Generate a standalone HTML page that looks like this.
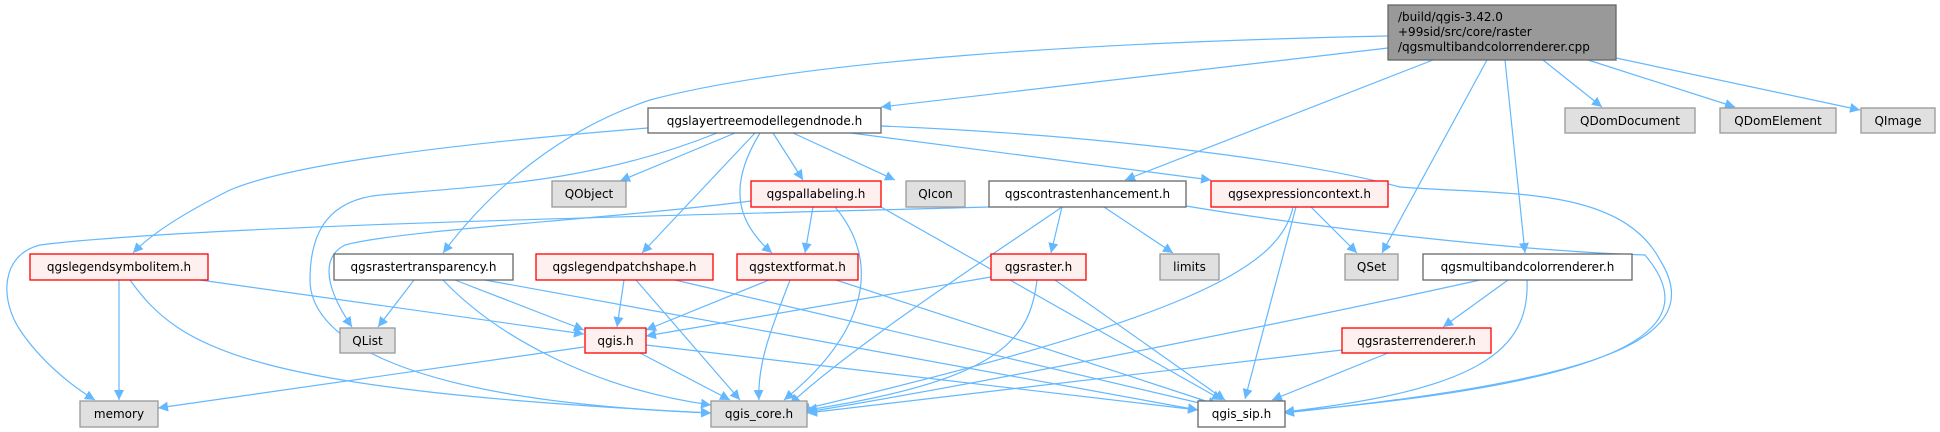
<!DOCTYPE html>
<html><head><meta charset="utf-8"><style>
html,body{margin:0;padding:0;background:#fff;}
svg{display:block;}
text{font-family:"DejaVu Sans","Liberation Sans",sans-serif;font-size:12px;fill:#000;}
</style></head><body>
<svg width="1940" height="432" viewBox="0 0 1940 432" xmlns="http://www.w3.org/2000/svg">
<defs>
<marker id="a" viewBox="0 0 10 10" refX="10" refY="5" markerWidth="10" markerHeight="10" markerUnits="userSpaceOnUse" orient="auto">
<path d="M0,0 L10,5 L0,10 z" fill="#63b8ff"/>
</marker>
</defs>
<g fill="none" stroke="#63b8ff" stroke-width="1.2" marker-end="url(#a)">
<!-- root edges -->
<path d="M1388,48 L881,107"/>
<path d="M1388,36 C1100,42 800,60 650,100 C560,130 490,190 443,253"/>
<path d="M1433,60 L1125,180"/>
<path d="M1487,60 L1382,253"/>
<path d="M1505,60 L1525,253"/>
<path d="M1543,60 L1602,107"/>
<path d="M1588,60 L1735,107"/>
<path d="M1616,58 L1860,110"/>
<!-- layertree -->
<path d="M735,133 L620,181"/>
<path d="M773,133 L803,180"/>
<path d="M793,133 L895,180"/>
<path d="M851,133 L1211,180"/>
<path d="M881,126 C1100,135 1300,160 1400,187 C1500,195 1620,185 1660,260 C1710,340 1600,380 1284,413"/>
<path d="M648,128 C500,140 300,160 230,190 C180,215 150,235 133,253"/>
<path d="M755,133 L642,253"/>
<path d="M760,133 C725,190 740,225 772,253"/>
<path d="M717,133 C600,180 500,185 380,195 C330,200 310,230 310,280 C310,330 380,400 711,413"/>
<!-- pallabeling -->
<path d="M813,207 L805,253"/>
<path d="M835,207 C880,260 870,330 784,400"/>
<path d="M751,201 C600,220 400,230 345,245 C325,255 320,280 352,327"/>
<path d="M881,207 L1222,400"/>
<!-- contrast enhancement -->
<path d="M989,207 C700,215 200,225 40,245 C0,255 0,300 20,330 C40,360 70,385 95,400"/>
<path d="M1062,207 L1051,253"/>
<path d="M1104,207 L1173,253"/>
<path d="M1062,207 C1000,250 860,340 790,404"/>
<path d="M1186,206 C1300,225 1500,250 1645,255 C1700,320 1660,380 1284,412"/>
<!-- expression context -->
<path d="M1311,207 L1357,253"/>
<path d="M1293,207 C1280,270 1180,320 800,410"/>
<path d="M1296,207 L1245,399"/>
<!-- legendsymbolitem -->
<path d="M119,280 L119,400"/>
<path d="M200,280 L584,334"/>
<path d="M130,280 C180,350 250,390 711,413"/>
<!-- rastertransparency -->
<path d="M414,280 L378,327"/>
<path d="M455,280 L584,330"/>
<path d="M443,280 C500,340 600,390 711,405"/>
<path d="M485,280 L1198,410"/>
<!-- legendpatchshape -->
<path d="M624,280 L617,327"/>
<path d="M636,280 L740,400"/>
<path d="M675,280 L1208,405"/>
<!-- textformat -->
<path d="M769,280 L646,330"/>
<path d="M790,280 C775,320 757,360 759,400"/>
<path d="M836,280 L1218,405"/>
<!-- qgsraster -->
<path d="M991,277 L646,336"/>
<path d="M1037,280 C1030,340 1000,380 807,410"/>
<path d="M1055,280 L1225,400"/>
<!-- qgis.h -->
<path d="M584,347 L158,408"/>
<path d="M640,353 L730,400"/>
<path d="M646,345 L1198,410"/>
<!-- multiband -->
<path d="M1480,280 C1300,320 1000,380 807,412"/>
<path d="M1508,280 L1443,327"/>
<path d="M1527,280 C1530,350 1480,390 1284,412"/>
<!-- rasterrenderer -->
<path d="M1342,350 L807,413"/>
<path d="M1388,353 L1272,400"/>
</g>
<!-- nodes -->
<g stroke-width="1.3">
<rect x="1388" y="5" width="228" height="55" fill="#999" stroke="#666"/>
<rect x="648" y="108" width="233" height="25" fill="#fff" stroke="#666"/>
<rect x="1565" y="108" width="130" height="25" fill="#e0e0e0" stroke="#999"/>
<rect x="1720" y="108" width="116" height="25" fill="#e0e0e0" stroke="#999"/>
<rect x="1861" y="108" width="74" height="25" fill="#e0e0e0" stroke="#999"/>
<rect x="552" y="181" width="74" height="26" fill="#e0e0e0" stroke="#999"/>
<rect x="751" y="181" width="130" height="26" fill="#fff0f0" stroke="#f00"/>
<rect x="906" y="181" width="59" height="26" fill="#e0e0e0" stroke="#999"/>
<rect x="989" y="181" width="197" height="26" fill="#fff" stroke="#666"/>
<rect x="1211" y="181" width="177" height="26" fill="#fff0f0" stroke="#f00"/>
<rect x="30" y="254" width="178" height="26" fill="#fff0f0" stroke="#f00"/>
<rect x="334" y="254" width="179" height="26" fill="#fff" stroke="#666"/>
<rect x="536" y="254" width="177" height="26" fill="#fff0f0" stroke="#f00"/>
<rect x="737" y="254" width="121" height="26" fill="#fff0f0" stroke="#f00"/>
<rect x="991" y="254" width="95" height="26" fill="#fff0f0" stroke="#f00"/>
<rect x="1160" y="254" width="59" height="26" fill="#e0e0e0" stroke="#999"/>
<rect x="1345" y="254" width="53" height="26" fill="#e0e0e0" stroke="#999"/>
<rect x="1423" y="254" width="209" height="26" fill="#fff" stroke="#666"/>
<rect x="340" y="328" width="55" height="25" fill="#e0e0e0" stroke="#999"/>
<rect x="585" y="328" width="61" height="25" fill="#fff0f0" stroke="#f00"/>
<rect x="1342" y="328" width="149" height="25" fill="#fff0f0" stroke="#f00"/>
<rect x="80" y="401" width="78" height="26" fill="#e0e0e0" stroke="#999"/>
<rect x="711" y="401" width="96" height="26" fill="#e0e0e0" stroke="#999"/>
<rect x="1198" y="401" width="87" height="26" fill="#fff" stroke="#666"/>
</g>
<g>
<text x="1398" y="21">/build/qgis-3.42.0</text>
<text x="1398" y="36">+99sid/src/core/raster</text>
<text x="1398" y="51">/qgsmultibandcolorrenderer.cpp</text>
</g>
<g text-anchor="middle">
<text x="764.5" y="125">qgslayertreemodellegendnode.h</text>
<text x="1630" y="125">QDomDocument</text>
<text x="1778" y="125">QDomElement</text>
<text x="1898" y="125">QImage</text>
<text x="589" y="198">QObject</text>
<text x="816" y="198">qgspallabeling.h</text>
<text x="935.5" y="198">QIcon</text>
<text x="1087.5" y="198">qgscontrastenhancement.h</text>
<text x="1299.5" y="198">qgsexpressioncontext.h</text>
<text x="119" y="271">qgslegendsymbolitem.h</text>
<text x="423.5" y="271">qgsrastertransparency.h</text>
<text x="624.5" y="271">qgslegendpatchshape.h</text>
<text x="797.5" y="271">qgstextformat.h</text>
<text x="1038.5" y="271">qgsraster.h</text>
<text x="1189.5" y="271">limits</text>
<text x="1371.5" y="271">QSet</text>
<text x="1527.5" y="271">qgsmultibandcolorrenderer.h</text>
<text x="367.5" y="345">QList</text>
<text x="615.5" y="345">qgis.h</text>
<text x="1416.5" y="345">qgsrasterrenderer.h</text>
<text x="119" y="418">memory</text>
<text x="759" y="418">qgis_core.h</text>
<text x="1241.5" y="418">qgis_sip.h</text>
</g>
</svg>
</body></html>
